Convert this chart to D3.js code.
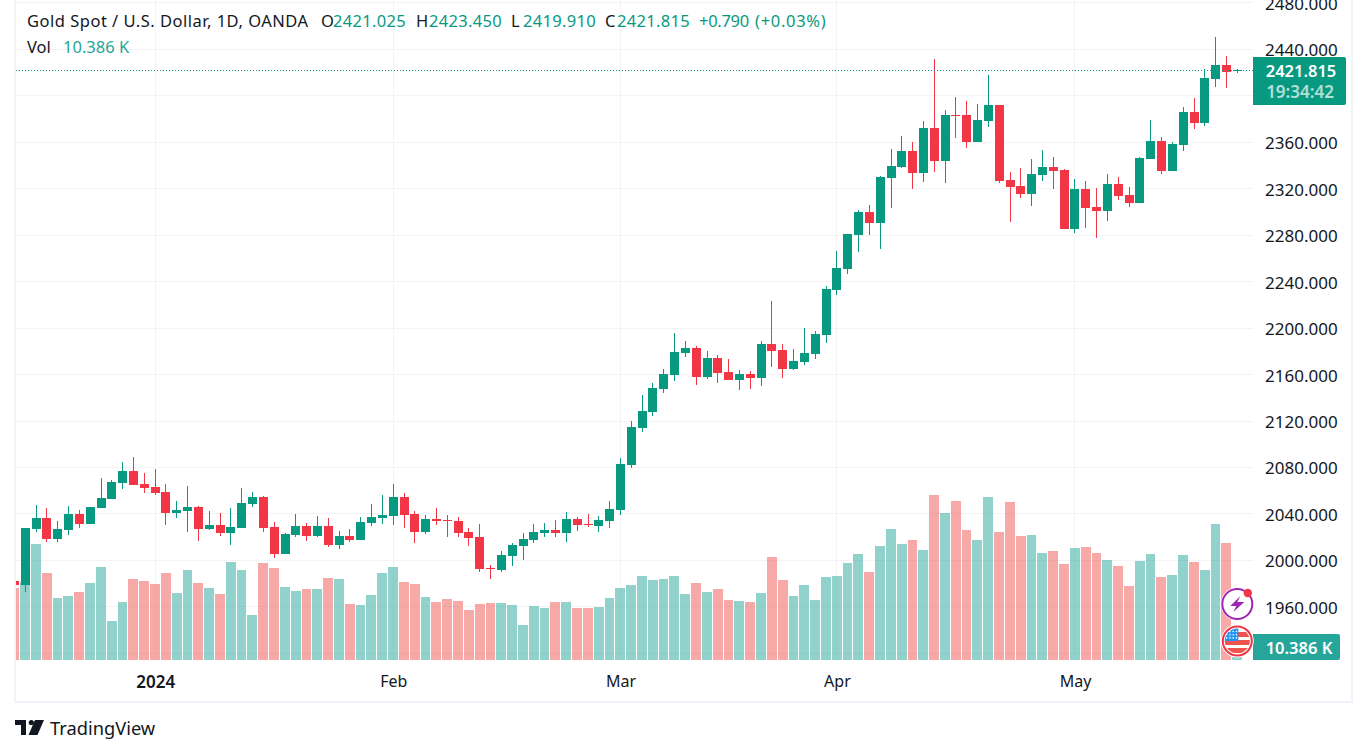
<!DOCTYPE html>
<html>
<head>
<meta charset="utf-8">
<title>Gold Spot / U.S. Dollar</title>
<script src="https://cdn.jsdelivr.net/npm/d3@7"></script>
<style>
  html, body { margin: 0; padding: 0; background: #fff; overflow: hidden; }
  svg { display: block; }
  text { font-family: "Noto Sans", sans-serif; fill: #131722; }
  .grid line { stroke: #f3f3f4; stroke-width: 1; shape-rendering: crispEdges; }
  .axis path, .axis line { display: none; }
  .y.axis text { font-size: 17px; }
  .x.axis text { font-size: 16px; }
</style>
</head>
<body>
<div id="chart"></div>
<script>
// one entry per trading day, first one is the half hidden candle on the left edge
const opens = [1982.2,1978.8,2027,2036.4,2018.4,2026.1,2039.9,2031.3,2045,2052.8,2066.5,2076.8,2065.7,2063.1,2058.8,2040.7,2042.4,2045.9,2027,2030.4,2023.5,2027.8,2048.5,2054.5,2028.7,2005.5,2021.8,2029.5,2021,2029.5,2013.2,2021,2017.5,2032.1,2036.4,2038.1,2054.5,2039.9,2024.4,2035.6,2034.7,2033.8,2024.4,2020.1,1993.4,1991.7,2003.7,2012.3,2017.5,2023.5,2026.1,2023.5,2035.6,2031.3,2029.5,2033.8,2043.3,2082.5,2114.3,2128,2147.8,2159.9,2178.8,2183.1,2158.1,2174.5,2162.4,2155.6,2160.7,2157.3,2186.5,2181.4,2165,2171,2178,2194.3,2232.7,2250.8,2280.3,2300.1,2290.6,2329.3,2338.8,2352.6,2333.6,2372.3,2344,2383.5,2383.5,2360.3,2378.4,2392.1,2327.6,2322.5,2315.6,2332,2338.8,2336.2,2285.5,2320,2304.4,2301,2324.2,2314.7,2307.8,2345.7,2361.2,2335.4,2357.7,2386.1,2376.6,2414.5,2426.5,2421.025];
const highs = [1982.2,2027.8,2047.6,2045,2033.8,2046.7,2043.3,2046,2070.8,2069.1,2084.6,2088.9,2075.1,2078.6,2065.7,2051,2064,2046.7,2042.4,2040.7,2045,2062.2,2058.8,2055.3,2033,2023.5,2039.9,2032.1,2038.1,2036.4,2025.2,2027,2037.3,2048.5,2056.2,2065.7,2058,2042.4,2039,2045,2039,2037.3,2027.8,2031.3,1996,2008,2015,2023.5,2031.3,2032.1,2034.7,2041.6,2037.3,2039.9,2038.1,2051,2088,2120.3,2142.7,2153,2165,2196,2189.1,2184.8,2180.5,2177.1,2173.6,2164.2,2163.3,2189.1,2223.5,2186.5,2182.2,2200.3,2197.7,2236,2266.2,2281,2301.8,2306.1,2331.1,2354.3,2365.5,2360.3,2378.4,2431.7,2387.8,2399,2395.6,2393,2418,2392.1,2334.5,2338,2345.7,2353.4,2347.4,2337,2328.5,2326.8,2320.7,2332.8,2330.2,2321.6,2347.4,2379.2,2364.6,2360.3,2390.4,2398.1,2423.1,2450.6,2434.3,2423.45];
const lows = [1978.8,1972.8,2024.4,2015.8,2015.8,2021.8,2027.8,2031.3,2045,2052.8,2061.4,2064.8,2058,2056.2,2030.4,2036.4,2024.4,2016.6,2026.1,2021,2013.2,2027.8,2045.9,2024.4,2002,2005.5,2020.1,2016.6,2020.1,2011.5,2009.8,2015.8,2017.5,2029.5,2031.3,2030.4,2027.8,2015,2022.7,2030.4,2020.1,2020.1,2012.3,1990,1984,1990,1995.1,2000.3,2015,2020.1,2020.1,2015.8,2025.2,2028.7,2024.4,2027.8,2039,2080,2110.8,2124.6,2144.4,2154.7,2175.3,2151.3,2156.4,2153,2155.6,2147,2147.8,2150.4,2166.7,2157.3,2164.2,2168.5,2173.6,2187.4,2228.4,2246.5,2265.7,2280.3,2268.3,2303.5,2338,2320,2326,2334.5,2325,2363.7,2355.1,2360.3,2373.2,2325,2291.5,2312.1,2305.3,2326.8,2320,2285.5,2282,2286.3,2277.7,2292.3,2310.4,2304.4,2307.8,2345.7,2332.8,2335.4,2352.6,2371.5,2374.1,2407.6,2406.7,2419.91];
const closes = [1978.8,2027.8,2036.4,2018.4,2027,2039.9,2031.3,2045.9,2053.6,2067.4,2076.8,2064.8,2062.2,2058,2040.7,2043.3,2045.9,2027,2030.4,2023.5,2028.7,2049.3,2054.5,2027.8,2005.5,2022.7,2029.5,2021,2029.5,2013.2,2021,2017.5,2033,2037.3,2039,2054.5,2039,2024.4,2035.6,2033.8,2033.8,2023.5,2019.2,1992.6,1992.6,2004.6,2013.2,2018.4,2024.4,2026.1,2023.5,2035.6,2030.4,2030.4,2034.7,2044.2,2082.9,2115.1,2128.9,2148.7,2160.7,2179.6,2183.1,2158.1,2174.5,2161.6,2155.6,2160.7,2157.3,2186.5,2180.5,2165,2171.9,2178.8,2195.1,2233.6,2251.6,2280.9,2300.1,2290.6,2330.2,2339.7,2352.6,2333.6,2372.3,2344,2383.5,2382.7,2360.3,2379.2,2392.1,2326.8,2321.6,2315.6,2332.8,2338.8,2335.4,2285.5,2320,2303.5,2301,2324.2,2313.9,2307.8,2346.5,2361.2,2335.4,2358.6,2386.1,2376.6,2415.3,2426.5,2420.5,2421.815];
const volumes = [225,243,362,271,193,200,212,240,290,122,181,253,246,237,271,209,281,240,225,206,306,281,140,303,287,228,215,222,222,256,253,175,172,203,271,290,243,237,197,181,190,184,156,175,178,178,172,109,168,162,181,181,162,162,165,193,225,234,262,250,253,262,206,240,212,222,187,184,181,209,321,250,200,234,187,259,262,303,331,275,356,409,362,374,343,515,459,496,406,374,509,399,493,387,390,334,340,300,349,353,334,312,293,231,309,331,259,265,328,306,281,424,365,10.386];

// 2400 has a grid line but its label sits under the price tag
const priceTicks = [1960,2000,2040,2080,2120,2160,2200,2240,2280,2320,2360,2440,2480];
const gridPrices = [1920,1960,2000,2040,2080,2120,2160,2200,2240,2280,2320,2360,2400,2440,2480];
const monthTicks = [13,35,56,76,98];
const monthLabels = ['2024','Feb','Mar','Apr','May'];

const lastPrice = 2421.815;
const WIDTH = 1361, HEIGHT = 754;
const UP = '#089981', DOWN = '#f23645';
const VOL_UP = 'rgba(38,166,154,0.5)', VOL_DOWN = 'rgba(239,83,80,0.5)';
const paneLeft = 16, paneRight = 1253, paneBottom = 660;

const svg = d3.select('#chart').append('svg').attr('width', WIDTH).attr('height', HEIGHT);

const scaleX = d3.scaleLinear().domain([0, opens.length - 1]).range([14.48, 1237.3]);
const scaleY = d3.scaleLinear().domain([1920, 2480]).range([653.4, 2.83]);
const scaleVol = d3.scaleLinear().domain([0, 600]).range([paneBottom, 468]);

svg.append('clipPath').attr('id', 'pane-clip')
  .append('rect')
  .attr('x', paneLeft).attr('y', 0)
  .attr('width', paneRight - paneLeft).attr('height', paneBottom);

// frame, there is no top side because the picture cuts it off
svg.append('path')
  .attr('d', `M15,0V702H1352V0`)
  .attr('fill', 'none').attr('stroke', '#f0f3fa').attr('stroke-width', 2);

// grid
const grid = svg.append('g').attr('class', 'grid');
grid.selectAll('.h').data(gridPrices).enter().append('line')
  .attr('class', 'h')
  .attr('x1', paneLeft).attr('x2', paneRight)
  .attr('y1', d => Math.floor(scaleY(d)) + 0.5).attr('y2', d => Math.floor(scaleY(d)) + 0.5);
grid.selectAll('.v').data(monthTicks).enter().append('line')
  .attr('class', 'v')
  .attr('y1', 0).attr('y2', paneBottom)
  .attr('x1', d => Math.floor(scaleX(d)) + 0.5).attr('x2', d => Math.floor(scaleX(d)) + 0.5);

const plot = svg.append('g').attr('clip-path', 'url(#pane-clip)');
const isUp = i => closes[i] >= opens[i];

// volume goes under the candles
plot.append('g').selectAll('rect').data(volumes).enter().append('rect')
  .attr('x', (d, i) => Math.ceil(scaleX(i) - 5.6))
  .attr('width', (d, i) => Math.ceil(scaleX(i + 1) - 5.6) - Math.ceil(scaleX(i) - 5.6) - 1)
  .attr('y', d => Math.round(scaleVol(d)))
  .attr('height', d => paneBottom - Math.round(scaleVol(d)))
  .attr('fill', (d, i) => isUp(i) ? VOL_UP : VOL_DOWN);

// last price line
svg.append('line')
  .attr('x1', paneLeft).attr('x2', paneRight)
  .attr('y1', Math.floor(scaleY(lastPrice)) + 0.5).attr('y2', Math.floor(scaleY(lastPrice)) + 0.5)
  .attr('stroke', UP).attr('stroke-width', 1).attr('stroke-dasharray', '1 2');

const candles = plot.append('g').selectAll('g').data(opens).enter().append('g')
  .attr('fill', (d, i) => isUp(i) ? UP : DOWN);
candles.append('rect')
  .attr('x', (d, i) => Math.floor(scaleX(i)))
  .attr('width', 1)
  .attr('y', (d, i) => Math.round(scaleY(highs[i])))
  .attr('height', (d, i) => Math.max(1, Math.round(scaleY(lows[i])) - Math.round(scaleY(highs[i]))));
candles.append('rect')
  .attr('x', (d, i) => Math.floor(scaleX(i)) - 4)
  .attr('width', 9)
  .attr('y', (d, i) => Math.round(scaleY(Math.max(opens[i], closes[i]))))
  .attr('height', (d, i) => Math.max(1, Math.round(scaleY(Math.min(opens[i], closes[i]))) - Math.round(scaleY(Math.max(opens[i], closes[i])))));

// axes
const yAxis = d3.axisRight(scaleY).tickValues(priceTicks).tickFormat(d3.format('.3f')).tickSize(0).tickPadding(0);
svg.append('g').attr('class', 'y axis')
  .attr('transform', 'translate(1265,1)')
  .call(yAxis);

const xAxis = d3.axisBottom(scaleX).tickValues(monthTicks).tickFormat((d, i) => monthLabels[i]).tickSize(0).tickPadding(0);
const xg = svg.append('g').attr('class', 'x axis')
  .attr('transform', 'translate(0,676)')
  .call(xAxis);
xg.selectAll('.tick').filter((d, i) => i === 0).select('text')
  .style('font-size', '17px').attr('font-weight', 600);

// price and volume labels
svg.append('path')
  .attr('d', 'M1253,57H1344a2,2 0 0 1 2,2V103a2,2 0 0 1 -2,2H1253Z')
  .attr('fill', UP);
svg.append('text').attr('x', 1301).attr('y', 77).attr('text-anchor', 'middle')
  .style('fill', '#fff').style('font-size', '16.5px').style('font-weight', 600)
  .text(d3.format('.3f')(lastPrice));
svg.append('text').attr('x', 1300).attr('y', 98).attr('text-anchor', 'middle')
  .style('fill', 'rgba(255,255,255,0.7)').style('font-size', '17px').style('font-weight', 600)
  .text('19:34:42');

svg.append('path')
  .attr('d', 'M1253,634H1338a2,2 0 0 1 2,2V658a2,2 0 0 1 -2,2H1253Z')
  .attr('fill', '#26a69a');
svg.append('text').attr('x', 1299).attr('y', 654).attr('text-anchor', 'middle')
  .style('fill', '#fff').style('font-size', '16.5px').style('font-weight', 600)
  .text('10.386 K');

// legend, the last two items come out too wide with the extra spacing
const legend = [
  ['Gold Spot / U.S. Dollar, 1D, OANDA', 27, '#131722', 0.5],
  ['O', 321, '#131722', 0], ['2421.025', 333, UP, 0.3],
  ['H', 416, '#131722', 0], ['2423.450', 429, UP, 0.3],
  ['L', 511, '#131722', 0], ['2419.910', 523, UP, 0.3],
  ['C', 605, '#131722', 0], ['2421.815', 617, UP, 0.3],
  ['+0.790', 699, UP, -0.3], ['(+0.03%)', 755, UP, 0.7]
];
svg.append('g').selectAll('text').data(legend).enter().append('text')
  .attr('x', d => d[1]).attr('y', 27)
  .style('font-size', '16.5px').style('letter-spacing', d => d[3] + 'px').style('fill', d => d[2])
  .text(d => d[0]);
svg.append('text').attr('x', 27).attr('y', 53).style('font-size', '16.5px').text('Vol');
svg.append('text').attr('x', 63).attr('y', 53).style('font-size', '16.5px').style('fill', '#26a69a').text('10.386 K');

// event badges
const bolt = svg.append('g').attr('transform', 'translate(1237.3,604)');
bolt.append('circle').attr('r', 16.5).attr('fill', '#fff');
bolt.append('circle').attr('r', 15).attr('fill', '#fff').attr('stroke', '#9c27b0').attr('stroke-width', 2);
bolt.append('path').attr('d', 'M3,-8L-7,2H-1L-4,8L7,-2H0Z').attr('fill', '#9c27b0');
bolt.append('circle').attr('cx', 10.5).attr('cy', -11).attr('r', 4.2).attr('fill', DOWN);

svg.append('clipPath').attr('id', 'flag-clip').append('circle').attr('r', 12.5);
const flag = svg.append('g').attr('transform', 'translate(1237.3,641)');
flag.append('circle').attr('r', 16.5).attr('fill', '#fff');
const flagInner = flag.append('g').attr('clip-path', 'url(#flag-clip)');
flagInner.append('rect').attr('x', -13).attr('y', -13).attr('width', 26).attr('height', 26).attr('fill', '#fff');
flagInner.selectAll('.stripe').data([-8, 0, 8]).enter().append('rect')
  .attr('class', 'stripe')
  .attr('x', -13).attr('width', 26).attr('y', d => d - 1).attr('height', 5).attr('fill', '#ef5350');
flagInner.append('rect').attr('x', -13).attr('y', -13).attr('width', 14).attr('height', 13).attr('fill', '#2196f3');
flagInner.selectAll('.star').data(d3.range(12)).enter().append('circle')
  .attr('class', 'star')
  .attr('cx', d => -10.5 + (d % 4) * 3.2).attr('cy', d => -9.5 + Math.floor(d / 4) * 3.2)
  .attr('r', 0.8).attr('fill', '#fff');
flag.append('circle').attr('r', 14.5).attr('fill', 'none').attr('stroke', DOWN).attr('stroke-width', 2);

// logo
const logo = svg.append('g').attr('fill', '#131722');
logo.append('path').attr('d', 'M15,720H26V735H21V725H15Z');
logo.append('circle').attr('cx', 31.3).attr('cy', 722.5).attr('r', 2.6);
logo.append('path').attr('d', 'M35,720H44L37.5,735H28.5Z');
logo.append('text').attr('x', 50).attr('y', 735).style('font-size', '18.3px').text('TradingView');
</script>
</body>
</html>
